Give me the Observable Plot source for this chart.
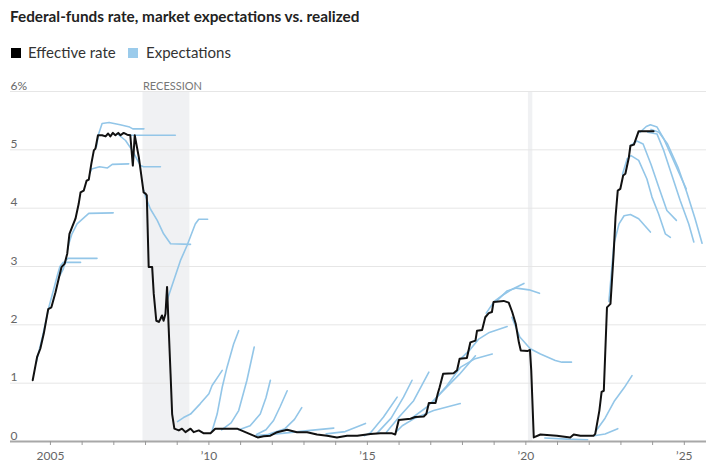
<!DOCTYPE html>
<html>
<head>
<meta charset="utf-8">
<script src="https://cdn.jsdelivr.net/npm/d3@7"></script>
<script src="https://cdn.jsdelivr.net/npm/@observablehq/plot@0.6"></script>
<style>
  html, body { margin: 0; padding: 0; background: #fff; }
  body { width: 706px; height: 462px; position: relative; overflow: hidden; font-family: Lato, "Noto Sans", sans-serif; }
  #title { position: absolute; left: 10px; top: 7px; font-size: 15.3px; font-weight: 700; color: #222; white-space: nowrap; }
  .lg { position: absolute; top: 43px; font-size: 15px; color: #333; white-space: nowrap; line-height: 18px; }
  .sw { position: absolute; top: 48px; width: 10px; height: 10px; }
  #chart { position: absolute; left: 0; top: 70px; }
</style>
</head>
<body>
<div id="title">Federal-funds rate, market expectations vs. realized</div>
<span class="sw" style="left:11px;background:#000"></span><span class="lg" style="left:28px">Effective rate</span>
<span class="sw" style="left:128px;background:#9bcbeb"></span><span class="lg" style="left:146px">Expectations</span>
<div id="chart"></div>
<script>
// ---- Data ----
const yTicks = [0, 1, 2, 3, 4, 5, 6];
const xMajorTicks = [2005, 2010, 2015, 2020, 2025];
const xMinorTicks = d3.range(2005, 2026);
const recessions = [
  {start: 2007.92, end: 2009.40, label: "RECESSION"},
  {start: 2020.08, end: 2020.22, label: ""}
];

// Effective federal-funds rate [year, percent]
const effectiveRate = [
  [2004.44,1.05],[2004.58,1.45],[2004.68,1.59],[2004.79,1.85],[2004.93,2.27],[2005.03,2.30],
  [2005.16,2.56],[2005.26,2.79],[2005.35,2.99],[2005.45,3.05],[2005.53,3.22],[2005.60,3.56],
  [2005.68,3.67],[2005.79,3.82],[2005.89,4.07],[2005.95,4.27],[2006.05,4.30],[2006.14,4.47],
  [2006.21,4.49],[2006.29,4.76],[2006.37,4.99],[2006.42,5.02],[2006.50,5.25],[2006.63,5.25],
  [2006.74,5.23],[2006.82,5.28],[2006.89,5.23],[2006.97,5.29],[2007.05,5.25],[2007.14,5.29],
  [2007.21,5.25],[2007.31,5.29],[2007.42,5.26],[2007.52,5.25],[2007.60,4.73],[2007.66,5.25],
  [2007.79,4.87],[2007.94,4.27],[2008.00,4.25],[2008.04,4.22],[2008.10,2.99],[2008.21,2.99],
  [2008.26,2.53],[2008.34,2.07],[2008.42,2.05],[2008.47,2.10],[2008.52,2.16],[2008.57,2.07],
  [2008.63,2.19],[2008.68,2.65],[2008.73,1.96],[2008.79,1.16],[2008.84,0.47],[2008.91,0.22],
  [2009.05,0.19],[2009.15,0.22],[2009.26,0.16],[2009.42,0.22],[2009.52,0.16],[2009.68,0.19],
  [2009.84,0.14],[2010.05,0.14],[2010.20,0.22],[2010.47,0.22],[2010.89,0.22],[2011.15,0.16],
  [2011.41,0.10],[2011.54,0.07],[2011.73,0.09],[2011.94,0.10],[2012.15,0.16],[2012.47,0.20],
  [2012.78,0.16],[2013.10,0.16],[2013.41,0.12],[2013.73,0.10],[2014.04,0.07],[2014.36,0.10],
  [2014.68,0.10],[2015.10,0.13],[2015.41,0.14],[2015.78,0.14],[2015.88,0.12],[2015.99,0.37],
  [2016.36,0.39],[2016.51,0.42],[2016.78,0.43],[2016.86,0.47],[2016.94,0.66],[2017.15,0.66],
  [2017.22,0.82],[2017.28,0.93],[2017.39,1.16],[2017.72,1.17],[2017.83,1.22],[2017.91,1.42],
  [2018.14,1.43],[2018.25,1.70],[2018.41,1.73],[2018.46,1.90],[2018.62,1.91],[2018.72,2.13],
  [2018.83,2.20],[2018.93,2.22],[2018.98,2.39],[2019.30,2.41],[2019.46,2.38],[2019.57,2.22],
  [2019.68,2.02],[2019.78,1.70],[2019.84,1.56],[2020.05,1.55],[2020.13,1.57],[2020.17,1.22],
  [2020.25,0.07],[2020.46,0.12],[2020.98,0.10],[2021.40,0.07],[2021.51,0.12],[2021.72,0.10],
  [2022.14,0.10],[2022.19,0.13],[2022.32,0.53],[2022.39,0.85],[2022.46,0.87],[2022.56,2.30],
  [2022.67,2.36],[2022.77,3.22],[2022.83,3.85],[2022.90,4.30],[2022.98,4.33],[2023.07,4.56],
  [2023.14,4.59],[2023.25,4.87],[2023.30,5.07],[2023.41,5.09],[2023.56,5.32],[2024.03,5.32]
];

// Market expectation paths [year, percent]
const exp2004 = [[2004.55,1.35],[2004.75,1.8],[2004.95,2.3],[2005.1,2.6],[2005.22,2.85],[2005.3,3.0],[2005.4,3.07],[2005.95,3.07]];
const exp2005a = [[2005.3,2.85],[2005.4,2.95],[2005.48,3.1],[2005.55,3.14],[2006.47,3.14]];
const exp2005b = [[2005.55,3.3],[2005.58,3.39],[2005.68,3.56],[2005.84,3.73],[2006.21,3.91],[2006.98,3.92]];
const exp2006a = [[2006.24,4.6],[2006.3,4.67],[2006.55,4.71],[2006.8,4.69],[2006.95,4.75],[2007.47,4.76]];
const exp2006b = [[2006.45,5.05],[2006.52,5.27],[2006.63,5.45],[2006.85,5.47],[2007.2,5.43],[2007.5,5.39],[2007.6,5.36],[2007.95,5.36]];
const exp2007a = [[2007.5,5.25],[2008.94,5.25]];
const exp2007b = [[2007.1,5.28],[2007.37,5.16],[2007.58,4.99],[2007.84,4.73],[2007.94,4.71],[2008.47,4.71]];
const exp2007c = [[2007.95,4.3],[2008.0,4.2],[2008.15,3.99],[2008.37,3.79],[2008.57,3.56],[2008.79,3.39],[2009.42,3.38]];
const exp2008 = [[2008.7,2.45],[2008.89,2.76],[2009.1,3.10],[2009.31,3.36],[2009.57,3.73],[2009.68,3.81],[2009.96,3.81]];
const exp2009 = [[2009.01,0.34],[2009.2,0.41],[2009.42,0.47],[2009.73,0.65],[2010.0,0.82],[2010.1,0.96],[2010.31,1.13],[2010.42,1.22]];
const exp2010a = [[2010.1,0.18],[2010.26,0.47],[2010.42,0.93],[2010.57,1.27],[2010.78,1.67],[2010.94,1.9]];
const exp2010b = [[2010.4,0.2],[2010.7,0.32],[2010.94,0.53],[2011.2,1.05],[2011.43,1.62]];
const exp2011a = [[2010.95,0.2],[2011.3,0.27],[2011.62,0.47],[2011.8,0.75],[2011.94,1.05]];
const exp2011b = [[2011.5,0.12],[2011.8,0.2],[2012.04,0.36],[2012.25,0.6],[2012.47,0.87]];
const exp2011c = [[2011.9,0.13],[2012.4,0.22],[2012.7,0.38],[2012.93,0.58]];
const exp2011d = [[2011.5,0.1],[2012.3,0.14],[2013.2,0.19],[2013.94,0.23]];
const exp2013 = [[2013.7,0.13],[2014.3,0.17],[2014.94,0.31]];
const exp2014 = [[2014.9,0.1],[2015.1,0.15],[2015.51,0.42],[2015.94,0.76]];
const exp2015a = [[2015.3,0.14],[2015.75,0.4],[2016.14,0.76],[2016.41,1.05]];
const exp2015b = [[2015.6,0.16],[2016.0,0.42],[2016.46,0.7],[2016.94,1.19]];
const exp2015c = [[2015.9,0.16],[2016.1,0.27],[2016.5,0.4],[2017.09,0.53],[2017.93,0.65]];
const exp2016a = [[2016.4,0.4],[2016.9,0.6],[2017.3,0.82],[2017.9,1.15],[2018.41,1.47]];
const exp2016b = [[2017.1,0.7],[2017.5,0.95],[2017.93,1.27],[2018.4,1.42],[2018.94,1.5]];
const exp2017 = [[2017.95,1.42],[2018.25,1.58],[2018.5,1.75],[2018.85,1.87],[2019.41,1.97]];
const exp2018a = [[2018.75,2.2],[2019.0,2.4],[2019.3,2.52],[2019.6,2.62],[2019.94,2.71]];
const exp2018b = [[2019.1,2.42],[2019.4,2.58],[2019.7,2.63],[2020.1,2.6],[2020.43,2.54]];
const exp2019 = [[2019.56,2.13],[2019.81,1.79],[2020.14,1.59],[2020.46,1.5],[2020.93,1.39],[2021.14,1.36],[2021.44,1.36]];
const exp2020 = [[2020.6,0.06],[2021.3,0.04],[2021.95,0.03]];
const exp2022a = [[2022.15,0.1],[2022.5,0.13],[2022.9,0.22]];
const exp2022b = [[2022.2,0.17],[2022.5,0.4],[2022.8,0.7],[2023.1,0.92],[2023.35,1.13]];
const exp2022c = [[2022.62,2.4],[2022.78,3.39],[2022.94,3.73],[2023.1,3.87],[2023.3,3.89],[2023.56,3.82],[2023.93,3.59]];
const exp2023a = [[2023.05,4.58],[2023.2,4.85],[2023.32,4.9],[2023.56,4.82],[2023.82,4.5],[2023.98,4.19],[2024.19,3.9],[2024.4,3.56],[2024.56,3.5]];
const exp2023b = [[2023.3,5.07],[2023.5,5.15],[2023.7,5.1],[2023.95,4.75],[2024.2,4.35],[2024.45,3.96],[2024.75,3.79]];
const exp2023c = [[2023.6,5.3],[2023.8,5.4],[2023.93,5.43],[2024.14,5.39],[2024.35,5.19],[2024.61,4.88],[2024.82,4.62],[2025.06,4.33]];
const exp2023d = [[2023.85,5.3],[2024.14,5.27],[2024.35,4.99],[2024.61,4.56],[2024.87,4.13],[2025.14,3.73],[2025.3,3.42]];
const exp2024 = [[2023.95,5.35],[2024.2,5.3],[2024.47,5.1],[2024.8,4.7],[2025.08,4.27],[2025.34,3.82],[2025.56,3.4]];

const expectationCurves = [exp2004, exp2005a, exp2005b, exp2006a, exp2006b, exp2007a, exp2007b, exp2007c,
  exp2008, exp2009, exp2010a, exp2010b, exp2011a, exp2011b, exp2011c, exp2011d, exp2013, exp2014,
  exp2015a, exp2015b, exp2015c, exp2016a, exp2016b, exp2017, exp2018a, exp2018b, exp2019, exp2020,
  exp2022a, exp2022b, exp2022c, exp2023a, exp2023b, exp2023c, exp2023d, exp2024];

// ---- Build tables ----
const effRows = effectiveRate.map(([x, y]) => ({x, y}));
const expRows = expectationCurves.flatMap((c, i) => c.map(([x, y]) => ({x, y, id: i})));

const chart = Plot.plot({
  width: 706,
  height: 392,
  marginTop: 21,
  marginBottom: 21,
  marginLeft: 10,
  marginRight: 0,
  style: {fontFamily: "Lato, 'Noto Sans', sans-serif", background: "#fff", overflow: "visible"},
  x: {domain: [2003.74, 2025.7], axis: null},
  y: {domain: [0, 6], axis: null},
  marks: [
    Plot.rect(recessions, {x1: "start", x2: "end", fill: "#f0f1f3"}),
    Plot.ruleY(yTicks.filter(d => d > 0), {stroke: "#e6e6e6", strokeWidth: 1}),
    Plot.text(recessions.filter(d => d.label), {x: "start", text: "label", frameAnchor: "top", textAnchor: "start", lineAnchor: "bottom", dy: -2, fill: "#777", fontSize: 11}),
    Plot.text(yTicks, {y: d => d, text: d => d === 6 ? "6%" : String(d), frameAnchor: "left", textAnchor: "start", lineAnchor: "bottom", dy: -2, fill: "#666", fontSize: 12}),
    Plot.line(expRows, {x: "x", y: "y", z: "id", stroke: "#93c6e8", strokeWidth: 1.6, curve: "linear"}),
    Plot.line(effRows, {x: "x", y: "y", stroke: "#111", strokeWidth: 2, strokeLinejoin: "round"}),
    Plot.ruleY([0], {stroke: "#a8a8a8", strokeWidth: 2}),
    Plot.axisX({ticks: xMinorTicks, tickSize: 4, tickFormat: () => "", stroke: "#999"}),
    Plot.axisX({ticks: xMajorTicks, tickSize: 0, tickPadding: 10, tickFormat: d => d === 2005 ? "2005" : "\u2019" + String(d).slice(2), fill: "#666", fontSize: 12})
  ]
});
document.getElementById("chart").appendChild(chart);
</script>
</body>
</html>
